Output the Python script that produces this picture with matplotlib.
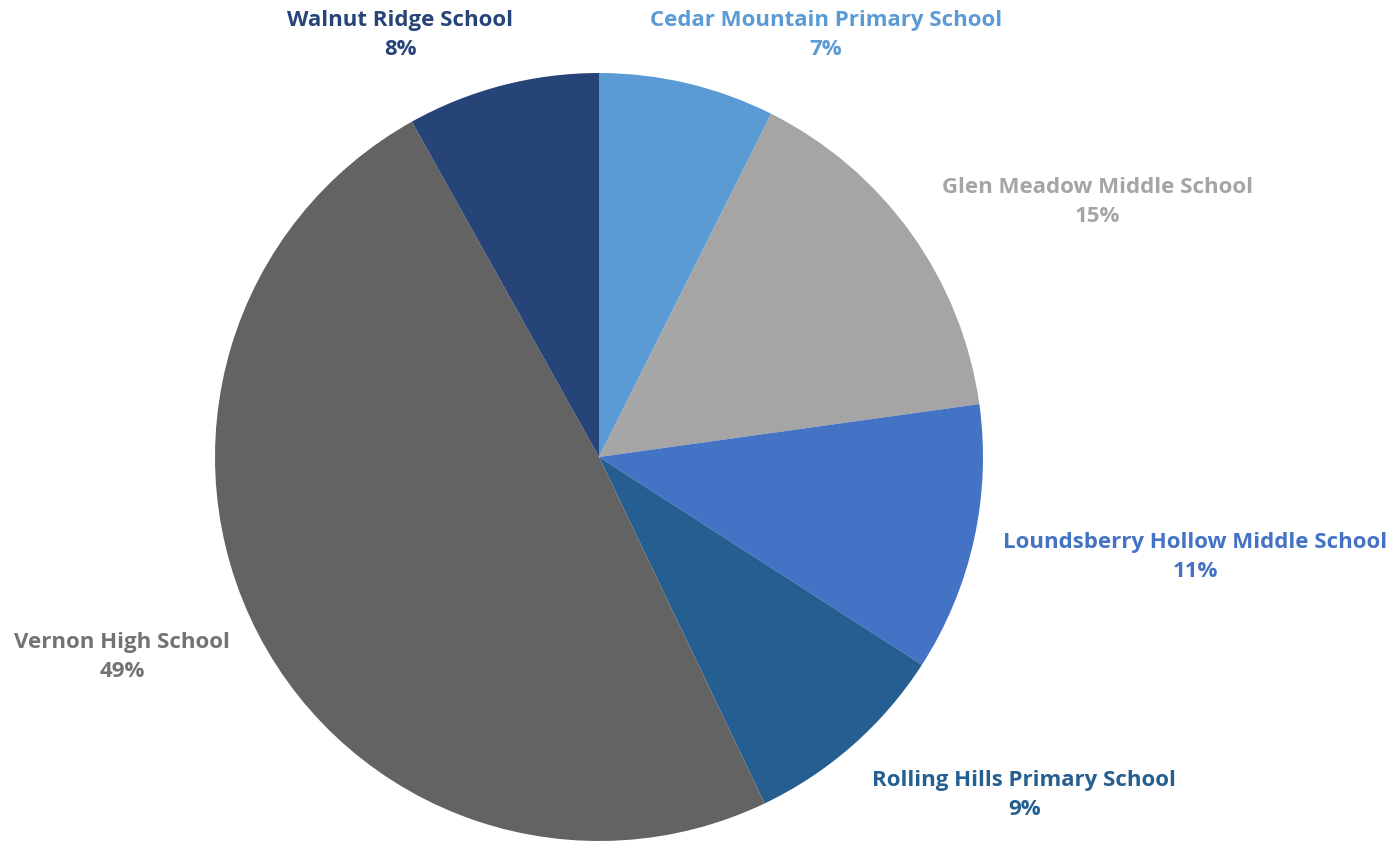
import matplotlib.pyplot as plt

schools = ['Cedar Mountain Primary School', 'Glen Meadow Middle School',
           'Loundsberry Hollow Middle School', 'Rolling Hills Primary School',
           'Vernon High School', 'Walnut Ridge School']
shares = [7.4, 15.4, 11.3, 8.8, 49.0, 8.1]
colors = ['#5B9BD5', '#A5A5A5', '#4472C4', '#255E91', '#636363', '#264478']
label_colors = ['#5B9BD5', '#A5A5A5', '#4472C4', '#255E91', '#737373', '#264478']

# label centres in axes data units (radius = 1)
label_xy = [(0.591, 1.099), (1.299, 0.664), (1.552, -0.260),
            (1.107, -0.880), (-1.242, -0.521), (-0.518, 1.099)]

fig = plt.figure(figsize=(13.91, 8.46), dpi=100)
ax = fig.add_axes([0, 0, 1, 1])
ax.pie(shares, colors=colors, startangle=90, counterclock=False,
       wedgeprops=dict(linewidth=0))
total = sum(shares)
for name, val, c, (x, y) in zip(schools, shares, label_colors, label_xy):
    ax.text(x, y, '%s\n%d%%' % (name, round(val / total * 100)), color=c,
            ha='center', va='center', fontsize=16, fontweight='bold',
            family='Open Sans', linespacing=1.5)
ax.set_xlim(-599 / 384, (1391 - 599) / 384)
ax.set_ylim(-(846 - 457) / 384, 457 / 384)
ax.set_aspect('equal')
ax.axis('off')
fig.savefig('out.png', dpi=100)
